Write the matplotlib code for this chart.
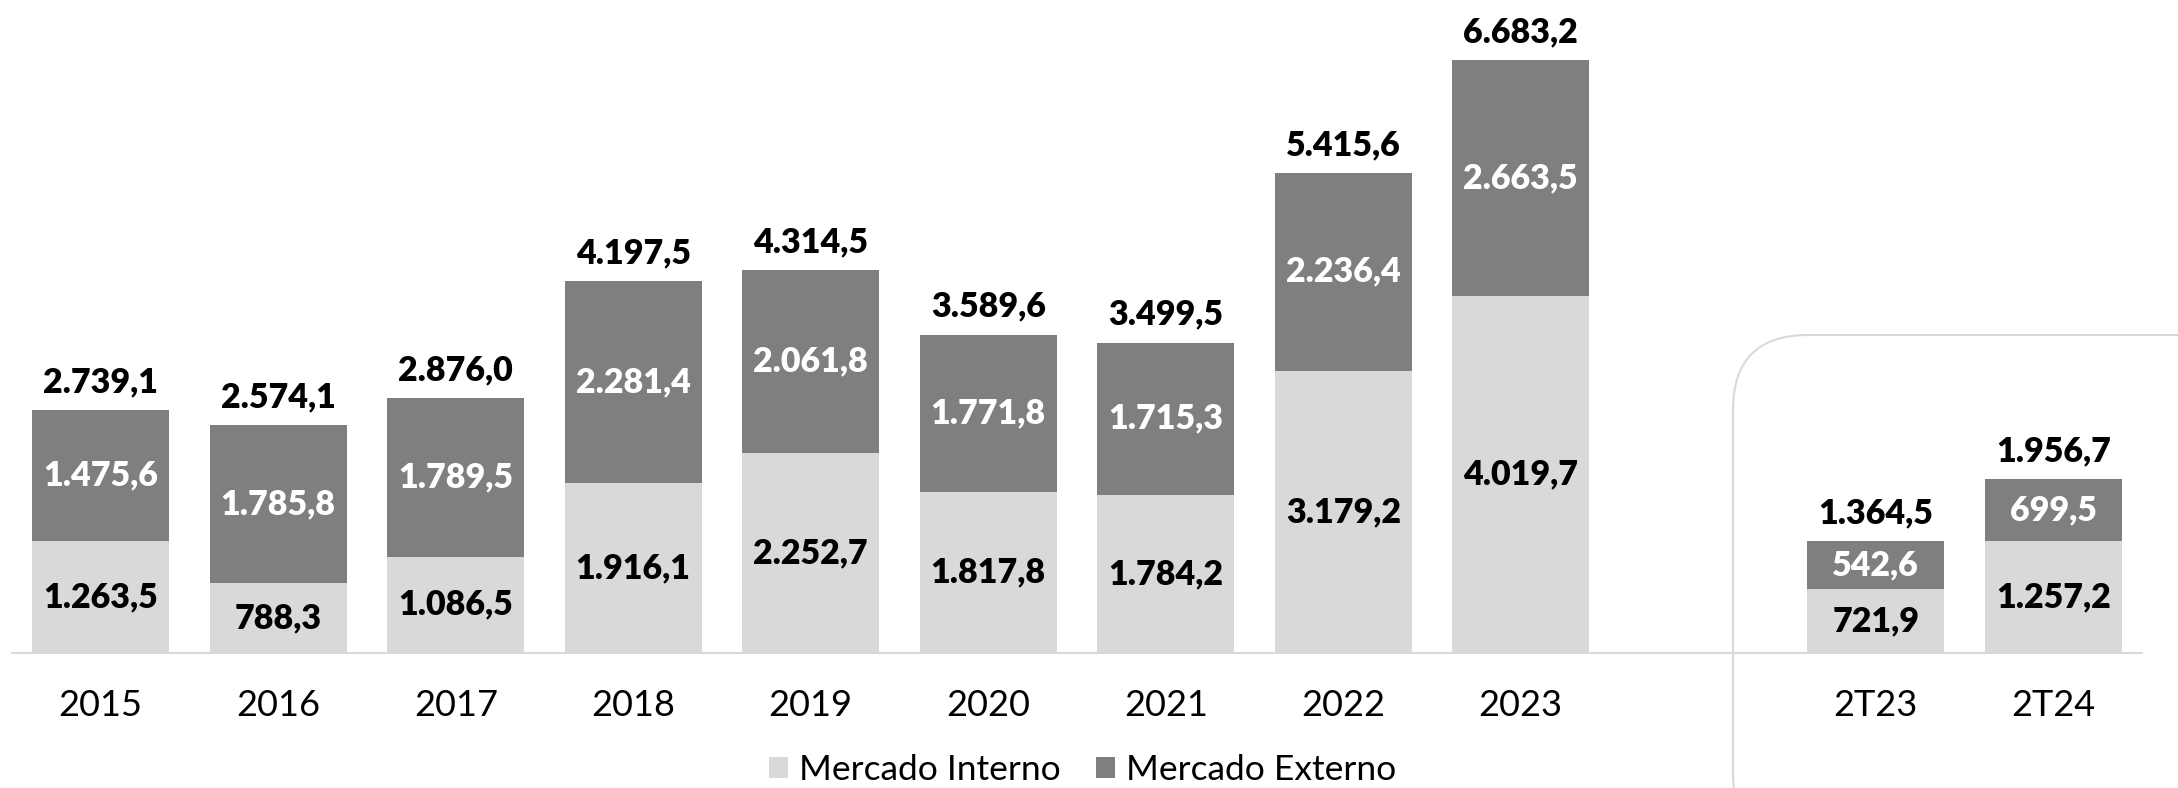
import matplotlib
matplotlib.use("Agg")
import matplotlib.pyplot as plt
from matplotlib.patches import FancyBboxPatch, Patch
from matplotlib.transforms import IdentityTransform

# data
categories = ["2015", "2016", "2017", "2018", "2019", "2020", "2021", "2022", "2023", "2T23", "2T24"]
positions = [0, 1, 2, 3, 4, 5, 6, 7, 8, 10, 11]
interno = [1263.5, 788.3, 1086.5, 1916.1, 2252.7, 1817.8, 1784.2, 3179.2, 4019.7, 721.9, 1257.2]
externo = [1475.6, 1785.8, 1789.5, 2281.4, 2061.8, 1771.8, 1715.3, 2236.4, 2663.5, 542.6, 699.5]
totais = [2739.1, 2574.1, 2876.0, 4197.5, 4314.5, 3589.6, 3499.5, 5415.6, 6683.2, 1364.5, 1956.7]

c_int = "#d9d9d9"
c_ext = "#7f7f7f"

plt.rcParams["font.family"] = ["Lato", "DejaVu Sans"]


def fmt(v):
    # brazilian number format: 1.234,5
    s = f"{v:,.1f}"
    return s.replace(",", "X").replace(".", ",").replace("X", ".")


fig = plt.figure(figsize=(21.78, 7.88), dpi=100)
ax = fig.add_axes([12 / 2178, 135 / 788, 2130 / 2178, 653 / 788])

w = 0.77
ax.bar(positions, interno, width=w, color=c_int, zorder=2)
ax.bar(positions, externo, width=w, bottom=interno, color=c_ext, zorder=2)

for x, a, b, t in zip(positions, interno, externo, totais):
    ax.text(x, a / 2, fmt(a), ha="center", va="center", fontsize=24.5,
            fontweight="heavy", color="black")
    ax.text(x, a + b / 2, fmt(b), ha="center", va="center", fontsize=24.5,
            fontweight="heavy", color="white")
    ax.annotate(fmt(t), (x, a + b), xytext=(0, 20), textcoords="offset points",
                ha="center", va="center", fontsize=24.5, fontweight="heavy",
                color="black")

ax.set_xlim(-0.5, 11.5)
ax.set_ylim(0, 7362)
ax.set_xticks(positions)
ax.set_xticklabels(categories, fontsize=26)
ax.tick_params(axis="x", length=0, pad=26)
ax.set_yticks([])
for s in ["top", "left", "right"]:
    ax.spines[s].set_visible(False)
ax.spines["bottom"].set_color(c_int)
ax.spines["bottom"].set_linewidth(1.5)
ax.patch.set_visible(False)

# rounded frame around the quarterly bars
box = FancyBboxPatch((1733, -60), 600, 513, boxstyle="round,pad=0,rounding_size=75",
                     transform=IdentityTransform(), facecolor="none",
                     edgecolor=c_int, linewidth=1.5, zorder=0)
fig.patches.append(box)

handles = [Patch(facecolor=c_int, edgecolor="none", label="Mercado Interno"),
           Patch(facecolor=c_ext, edgecolor="none", label="Mercado Externo")]
fig.legend(handles=handles, loc="center", bbox_to_anchor=(0.497, 0.023), ncol=2,
           frameon=False, fontsize=25.5, handlelength=0.55, handleheight=0.55,
           handletextpad=0.3, columnspacing=1.0, borderpad=0)

fig.savefig("out.png", dpi=100)
